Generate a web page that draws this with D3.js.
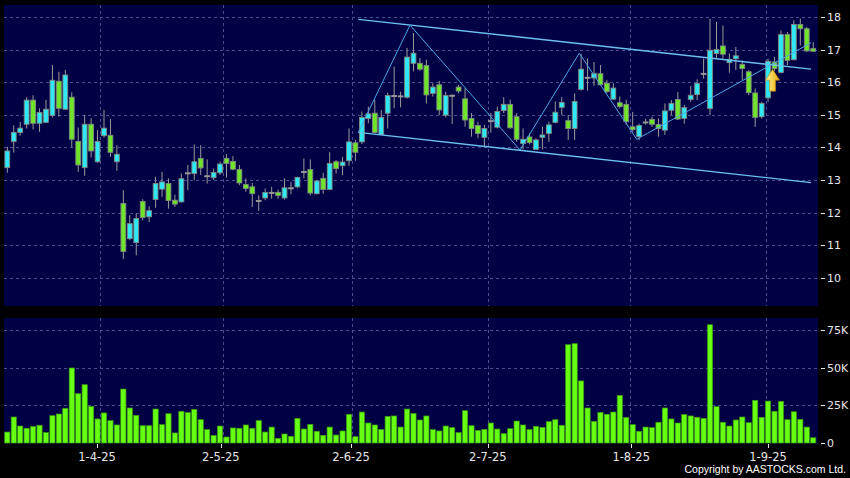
<!DOCTYPE html>
<html><head><meta charset="utf-8">
<script src="https://cdn.jsdelivr.net/npm/d3@7"></script>
<style>html,body{margin:0;padding:0;background:#000;}svg{display:block;}</style>
</head><body>
<script>
// ---- data ----
const openP  = [13.38,14.18,14.46,14.71,15.45,14.74,14.77,14.98,16.03,15.17,15.54,14.18,13.38,14.71,13.56,14.36,14.37,13.56,12.28,11.20,11.08,12.34,11.87,12.40,12.72,12.89,12.38,12.33,13.22,13.20,13.66,13.13,13.07,13.22,13.66,13.57,13.32,12.86,12.79,12.37,12.45,12.62,12.62,12.45,12.76,12.79,13.26,13.32,12.58,13.05,12.71,13.56,13.44,13.59,14.14,14.17,14.89,15.05,14.40,15.05,15.59,15.58,15.54,16.58,16.58,16.51,15.66,15.92,14.99,15.60,15.85,15.49,14.89,14.67,14.31,14.82,14.62,15.13,15.32,14.94,14.12,14.32,13.94,14.31,14.43,14.77,15.23,14.82,14.58,15.78,16.15,16.13,16.26,15.97,15.48,15.37,15.32,14.63,14.33,14.78,14.86,14.70,14.53,15.14,15.47,14.89,15.47,15.62,16.27,15.19,16.88,17.11,16.60,16.72,16.54,16.32,15.67,14.94,15.52,16.62,16.30,17.46,16.69,17.77,17.64,17.03];
const highP  = [14.02,14.68,14.78,15.54,15.60,15.20,15.46,16.53,16.32,16.38,15.69,14.61,15.00,14.90,14.53,15.15,14.87,14.07,12.69,11.92,11.97,12.41,12.19,13.10,13.25,13.05,12.55,13.20,13.46,14.09,14.07,13.63,13.35,13.56,13.79,13.73,13.46,13.05,12.91,12.53,12.74,12.79,12.70,13.05,12.94,13.10,13.66,13.63,13.00,13.22,13.85,13.61,13.71,14.58,14.23,15.10,15.25,15.46,15.15,15.68,16.48,15.71,17.05,17.51,16.74,16.69,15.97,16.04,15.71,15.62,15.92,15.82,15.05,14.79,14.69,15.05,15.25,15.54,15.46,15.05,14.58,14.43,14.28,14.64,14.79,15.41,15.54,14.99,15.66,16.87,16.73,16.62,16.53,16.07,15.97,15.56,15.46,15.09,14.73,14.88,14.94,14.89,15.35,15.45,15.70,15.30,15.88,16.09,16.72,17.95,17.85,17.74,16.88,17.08,16.67,16.37,15.81,15.40,16.72,16.78,17.59,17.54,17.90,17.95,17.69,17.23];
const lowP   = [13.22,13.84,14.36,14.58,14.55,14.48,14.74,14.92,14.94,15.15,14.00,13.25,13.13,13.69,13.53,14.30,13.71,13.28,10.58,11.15,10.69,11.76,11.71,12.15,12.48,12.12,12.17,12.30,12.69,13.00,13.15,12.89,13.00,13.15,13.07,13.30,12.84,12.64,12.17,12.05,12.38,12.43,12.43,12.40,12.56,12.76,13.05,12.53,12.56,12.58,12.69,13.20,13.15,13.44,13.59,14.10,14.74,14.43,14.38,14.58,15.20,15.23,15.50,16.33,16.35,15.35,15.56,14.99,14.92,14.72,15.66,14.64,14.33,14.28,14.04,14.45,14.58,15.05,14.58,14.17,13.94,14.09,13.92,13.94,14.17,14.74,14.99,14.23,14.23,15.74,15.74,15.89,15.90,15.66,15.45,15.20,14.69,14.48,14.22,14.70,14.63,14.33,14.38,14.99,14.84,14.73,15.40,15.45,16.11,14.99,16.72,16.72,16.29,16.37,16.06,15.60,14.63,14.89,15.40,16.35,16.27,16.52,16.67,17.13,16.93,16.93];
const closeP = [13.89,14.46,14.59,15.45,14.74,15.07,15.17,16.06,15.20,16.22,14.25,13.46,14.71,13.89,14.18,14.59,13.85,13.79,10.81,11.66,11.82,11.85,12.06,12.89,12.94,12.37,12.26,13.04,13.22,13.56,13.37,13.13,13.23,13.49,13.51,13.33,12.91,12.74,12.58,12.37,12.62,12.62,12.53,12.76,12.76,13.08,13.26,12.60,12.97,12.71,13.51,13.35,13.55,14.17,13.85,14.92,15.03,14.46,14.92,15.59,15.59,15.58,16.77,16.89,16.40,15.61,15.85,15.15,15.59,15.60,15.73,14.84,14.58,14.43,14.58,14.82,15.10,15.32,14.60,14.25,14.25,14.15,14.23,14.38,14.69,15.08,15.38,14.58,15.41,16.40,16.15,16.26,15.92,15.71,15.82,15.25,14.79,14.55,14.67,14.78,14.71,14.58,15.12,15.35,14.87,15.22,15.60,15.96,16.27,16.98,17.00,16.86,16.70,16.81,16.42,15.68,14.92,15.35,16.64,16.42,17.46,16.67,17.77,17.64,16.96,16.95];
const volumeK = [7.3,17.3,11.3,9.8,10.9,11.8,6.9,18.2,19.3,23.1,49.9,32.8,38.8,24.4,16.0,20.0,14.9,12.0,35.9,23.3,18.4,
  11.5,11.5,22.6,12.2,19.5,6.7,21.1,20.2,22.4,15.5,8.9,5.1,11.3,4.0,10.0,9.8,12.0,9.8,14.9,7.3,10.6,
  3.1,6.0,4.4,16.4,9.3,12.4,7.8,5.1,10.6,5.3,8.0,19.1,4.2,20.6,13.3,12.0,8.9,17.7,18.0,10.6,22.6,
  19.7,15.3,18.0,8.9,8.0,11.3,10.2,6.9,21.5,11.5,8.4,9.1,13.3,9.3,6.2,9.5,14.6,12.0,8.9,11.1,10.4,
  14.2,15.5,11.8,65.4,66.1,41.3,23.3,14.4,20.4,19.1,20.6,31.7,16.9,12.2,7.8,10.6,10.2,13.8,23.3,16.0,13.3,
  18.9,18.0,17.1,16.4,78.7,24.2,13.8,11.3,15.3,17.3,13.5,28.4,17.1,27.9,21.1,27.7,15.5,20.8,15.7,10.6,3.5];
const priceTicks = [10,11,12,13,14,15,16,17,18];
const volTicks = [0,25,50,75];
const volTickLabels = ["0","25K","50K","75K"];
const dateLabels = ["1-4-25","2-5-25","2-6-25","2-7-25","1-8-25","1-9-25"];
const dateIdx = [14,33,53,74,96,117];
// trend lines: [index, price]
const channelUpper = [[54.44,17.93],[124.66,16.40]];
const channelLower = [[54.44,14.46],[124.66,12.92]];
const zigzag = [[54.44,14.46],[62.46,17.75],[79.53,13.92],[88.72,16.89],[97.63,14.25],[124.66,17.21]];
const arrowAt = {idx:118.7, price:16.40};

// ---- scales ----
const N = closeP.length;
const W = 850, H = 478;
const panelL = 4, panelR = 818;
const x = d3.scaleLinear().domain([0, N-1]).range([7.3, 813.2]);
const xGrid = d3.scaleLinear().domain([14,117]).range([100, 765.7]);
const xLab = d3.scaleLinear().domain([14,117]).range([97, 768]);
const y = d3.scaleLinear().domain([10,18]).range([277.8,17]);
const yv = d3.scaleLinear().domain([0,75]).range([443,330.3]);

const svg = d3.select("body").append("svg").attr("width",W).attr("height",H);
svg.append("rect").attr("width",W).attr("height",H).attr("fill","#000");

const navy = "#000044";
const gridC = "#4c4c90";
svg.append("rect").attr("x",panelL).attr("y",5).attr("width",panelR-panelL).attr("height",301).attr("fill",navy);
svg.append("rect").attr("x",panelL).attr("y",318).attr("width",panelR-panelL).attr("height",125.5).attr("fill",navy);

// grid - price
const gp = svg.append("g").attr("stroke",gridC).attr("stroke-width",1).attr("stroke-dasharray","3,3");
gp.selectAll(".h").data(priceTicks).join("line")
  .attr("x1",panelL).attr("x2",panelR).attr("y1",d=>Math.round(y(d))+0.5).attr("y2",d=>Math.round(y(d))+0.5);
gp.selectAll(".v").data(dateIdx).join("line")
  .attr("x1",d=>Math.round(xGrid(d))+0.5).attr("x2",d=>Math.round(xGrid(d))+0.5).attr("y1",5).attr("y2",306);
// grid - volume
const gv = svg.append("g").attr("stroke",gridC).attr("stroke-width",1).attr("stroke-dasharray","3,3");
gv.selectAll(".h").data(volTicks.slice(1)).join("line")
  .attr("x1",panelL).attr("x2",panelR).attr("y1",d=>Math.round(yv(d))+0.5).attr("y2",d=>Math.round(yv(d))+0.5);
gv.selectAll(".v").data(dateIdx).join("line")
  .attr("x1",d=>Math.round(xGrid(d))+0.5).attr("x2",d=>Math.round(xGrid(d))+0.5).attr("y1",318).attr("y2",443);

// candles
const idx = d3.range(N);
const upC = "#2ee8f6", dnC = "#6fe52a", wickC = "#9a9a9a";
const cg = svg.append("g");
cg.selectAll(".w").data(idx).join("line")
  .attr("x1",i=>x(i)).attr("x2",i=>x(i)).attr("y1",i=>y(highP[i])).attr("y2",i=>y(lowP[i]))
  .attr("stroke",wickC).attr("stroke-width",1);
const bw = 4.8;
cg.selectAll(".b").data(idx).join("rect")
  .attr("x",i=>x(i)-bw/2)
  .attr("y",i=>y(Math.max(openP[i],closeP[i])))
  .attr("width",bw)
  .attr("height",i=>Math.max(1, Math.abs(y(openP[i])-y(closeP[i]))))
  .attr("fill",i=>closeP[i]>openP[i]?upC:(closeP[i]<openP[i]?dnC:"#9a9a9a"))
  .attr("stroke",i=>closeP[i]===openP[i]?"#9a9a9a":"#808a80")
  .attr("stroke-width",0.9);

// trend lines
const line = d3.line().x(d=>x(d[0])).y(d=>y(d[1]));
const tl = svg.append("g").attr("fill","none");
tl.append("path").attr("d",line(channelUpper)).attr("stroke","#6cc0f0").attr("stroke-width",1.3);
tl.append("path").attr("d",line(channelLower)).attr("stroke","#6cc0f0").attr("stroke-width",1.3);
tl.append("path").attr("d",line(zigzag)).attr("stroke","#4aa6e6").attr("stroke-width",1);

// arrow
const defs = svg.append("defs");
const grad = defs.append("linearGradient").attr("id","ag").attr("x1",0).attr("x2",1).attr("y1",0).attr("y2",0);
grad.append("stop").attr("offset","0%").attr("stop-color","#fff7a0");
grad.append("stop").attr("offset","100%").attr("stop-color","#e8a800");
const ax = x(arrowAt.idx), ay = y(arrowAt.price);
svg.append("path")
  .attr("d",`M${ax},${ay} L${ax+7},${ay+11} L${ax+3},${ay+11} L${ax+3},${ay+22} L${ax-3},${ay+22} L${ax-3},${ay+11} L${ax-7},${ay+11} Z`)
  .attr("fill","url(#ag)").attr("stroke","#c08000").attr("stroke-width",0.6);

// volume bars
const vb = 5.2;
svg.append("g").selectAll("rect").data(idx).join("rect")
  .attr("x",i=>x(i)-vb/2).attr("y",i=>yv(volumeK[i]))
  .attr("width",vb).attr("height",i=>yv(0)-yv(volumeK[i]))
  .attr("fill","#66ff11").attr("stroke","#3a9a10").attr("stroke-width",0.7);

// right axes
const txt = "#e6e6e6";
const ra = svg.append("g").attr("font-family","DejaVu Sans, Verdana, sans-serif").attr("font-size",11).attr("fill",txt);
ra.selectAll(".pt").data(priceTicks).join("text").attr("x",827).attr("y",d=>y(d)+4).text(d=>d);
ra.selectAll(".pl").data(priceTicks).join("line").attr("x1",821).attr("x2",825)
  .attr("y1",d=>Math.round(y(d))+0.5).attr("y2",d=>Math.round(y(d))+0.5).attr("stroke",txt);
ra.selectAll(".vt").data(volTicks).join("text").attr("x",827).attr("y",d=>yv(d)+4).text((d,i)=>volTickLabels[i]);
ra.selectAll(".vl").data(volTicks).join("line").attr("x1",821).attr("x2",825)
  .attr("y1",d=>Math.round(yv(d))+0.5).attr("y2",d=>Math.round(yv(d))+0.5).attr("stroke",txt);

// date axis
const da = svg.append("g").attr("font-family","DejaVu Sans, Verdana, sans-serif").attr("font-size",11.5).attr("fill",txt);
da.selectAll("text").data(dateIdx).join("text").attr("x",d=>xLab(d)).attr("y",461).attr("text-anchor","middle")
  .text((d,i)=>dateLabels[i]);
da.selectAll("line").data(dateIdx).join("line").attr("x1",d=>Math.round(xLab(d))+0.5).attr("x2",d=>Math.round(xLab(d))+0.5)
  .attr("y1",444).attr("y2",448).attr("stroke",txt);

svg.append("text").attr("x",846).attr("y",473).attr("text-anchor","end")
  .attr("font-family","Liberation Sans, Arial, sans-serif").attr("font-size",10.5).attr("fill","#ffffff")
  .text("Copyright by AASTOCKS.com Ltd.");
</script>
</body></html>
